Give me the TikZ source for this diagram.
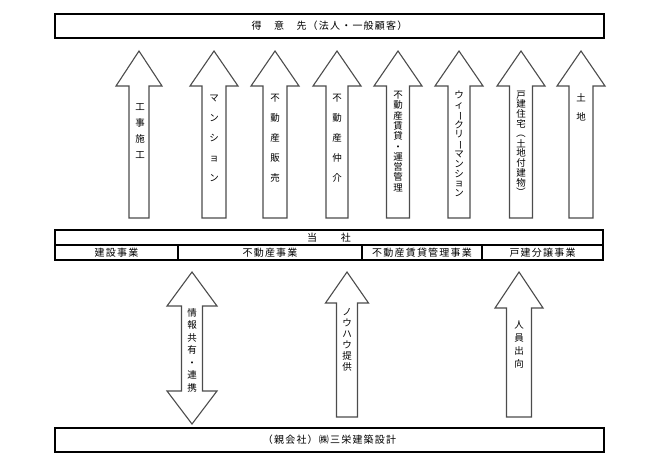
\documentclass[tikz,border=0pt]{standalone}
\usepackage{fontspec}
\setmainfont{Noto Sans CJK JP}
\newfontfamily\boxfont[LetterSpace=12]{Noto Sans CJK JP}
\usepackage{graphicx}
\newcommand{\vlong}{\rotatebox[origin=c]{-90}{ー}}
\newcommand{\vopen}{\rotatebox[origin=c]{-90}{（}}
\newcommand{\vclose}{\rotatebox[origin=c]{-90}{）}}
\newcommand{\leadfont}[1]{\fontsize{9.5}{#1}\selectfont\lineskiplimit=-100pt}

\begin{document}
\begin{tikzpicture}[x=1pt, y=-1pt]
            \tikzset{frame/.style={draw=black, line width=1.3pt, inner sep=0pt, font=\boxfont\fontsize{10}{12}\selectfont}}
            \tikzset{blockarrow/.style={draw=black!70, line width=1.1pt, fill=white, line join=miter}}
            \tikzset{vlabel/.style={align=center, inner sep=0pt}}
            \useasboundingbox (0,0) rectangle (660,462);
            \node[frame, minimum width=549pt, minimum height=24pt] (client) at (329.5,26) {得　意　先（法人・一般顧客）};
            \node[frame, minimum width=548pt, minimum height=15pt] (company) at (329,237.5) {当　　社};
            \node[frame, minimum width=123pt, minimum height=15pt] (build) at (116.5,252.5) {建設事業};
            \node[frame, minimum width=184pt, minimum height=15pt] (estate) at (270,252.5) {不動産事業};
            \node[frame, minimum width=120pt, minimum height=15pt] (rental) at (422,252.5) {不動産賃貸管理事業};
            \node[frame, minimum width=121pt, minimum height=15pt] (house) at (542.5,252.5) {戸建分譲事業};
            \node[frame, minimum width=549pt, minimum height=24pt] (parent) at (329.5,440) {（親会社）㈱三栄建築設計};
            \foreach \cx/\hw/\sw/\tip/\head/\base in {139/23/10/51/86/218, 214/24/12/51/86/218, 275/24/12/51/86/218,
                    337/24/11/51/86/218, 398/24/11.5/51/86/218, 459/24/11/51/86/218, 521/24/11.5/51/86/218,
                    581/24/12/51/86/218, 347/21.5/10.5/272/303/417, 519/24/12.5/272/308/417} {
                \draw[blockarrow] (\cx-\sw,\base) -- (\cx-\sw,\head) -- (\cx-\hw,\head) -- (\cx,\tip)
                    -- (\cx+\hw,\head) -- (\cx+\sw,\head) -- (\cx+\sw,\base) -- cycle;
            }
            \draw[blockarrow] (192,272) -- (217,306) -- (202.5,306) -- (202.5,391) -- (217,391) -- (192,424)
                -- (167,391) -- (181.5,391) -- (181.5,306) -- (167,306) -- cycle;
            \node[vlabel, font=\leadfont{16}] (work) at (140,131) {工\\事\\施\\工};
            \node[vlabel, font=\leadfont{20}] (mansion) at (214,138) {マ\\ン\\シ\\ョ\\ン};
            \node[vlabel, font=\leadfont{20}] (sales) at (275,138) {不\\動\\産\\販\\売};
            \node[vlabel, font=\leadfont{20}] (broker) at (337,138) {不\\動\\産\\仲\\介};
            \node[vlabel, font=\leadfont{10.3}] (lease) at (398,141.5) {不\\動\\産\\賃\\貸\\・\\運\\営\\管\\理};
            \node[vlabel, font=\leadfont{9.8}] (weekly) at (459,144) {ウ\\ィ\\\vlong\\ク\\リ\\\vlong\\マ\\ン\\シ\\ョ\\ン};
            \node[vlabel, font=\leadfont{9.8}] (detached) at (521,144) {戸\\建\\住\\宅\\\vopen\\土\\地\\付\\建\\物\\\vclose};
            \node[vlabel, font=\leadfont{19}] (land) at (581,107.5) {土\\地};
            \node[vlabel, font=\leadfont{12.5}] (share) at (192,350) {情\\報\\共\\有\\・\\連\\携};
            \node[vlabel, font=\leadfont{11}] (knowhow) at (347,340) {ノ\\ウ\\ハ\\ウ\\提\\供};
            \node[vlabel, font=\leadfont{13}] (staff) at (519,345) {人\\員\\出\\向};
        \end{tikzpicture}
\end{document}
